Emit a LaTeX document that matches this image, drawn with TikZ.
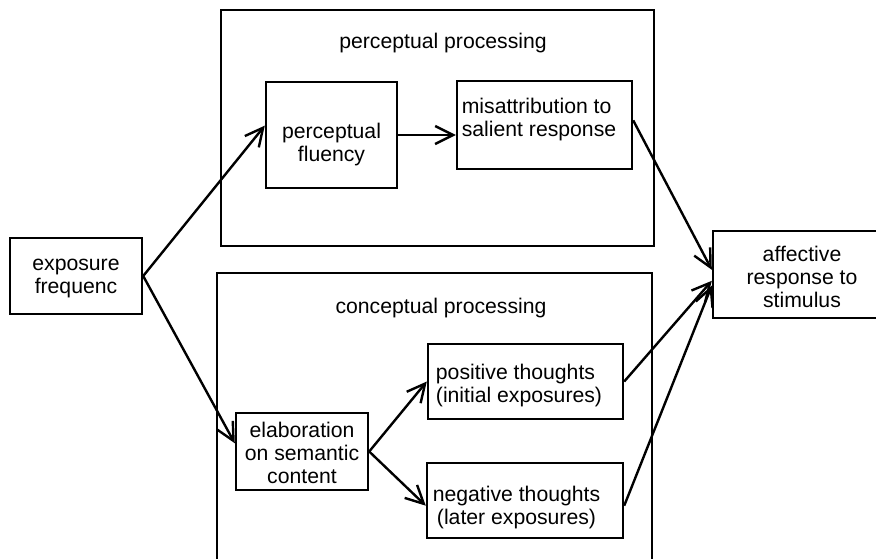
\documentclass[tikz,border=0pt]{standalone}
\usepackage{fontspec}
\setmainfont{Liberation Sans}
\usetikzlibrary{arrows.meta}

\begin{document}
\begin{tikzpicture}[x=0.5pt,y=-0.5pt,line width=1.2pt,
  box/.style={draw,rectangle,inner sep=0pt},
  txt/.style={font=\fontsize{10.6}{11.5}\selectfont,inner sep=0pt,align=center},
  arr/.style={-{Straight Barb[length=9pt,width=9pt,line width=1.2pt]}}]
  \clip (0,0) rectangle (876,558);
  % the two processing routes
  \node[box,minimum width=216.5pt,minimum height=118pt] (percbox) at (437.5,128) {};
  \node[txt] (perctitle) at (443,43) {perceptual processing};
  \node[box,minimum width=217.5pt,minimum height=163.5pt] (concbox) at (434.5,436.5) {};
  \node[txt] (conctitle) at (441,308) {conceptual processing};
  % boxes
  \node[box,minimum width=66pt,minimum height=38pt,
    label={[txt,yshift=-1pt]center:{exposure\\frequenc}}] (expo) at (76,276) {};
  \node[box,minimum width=65.5pt,minimum height=53pt,
    label={[txt,yshift=-5pt]center:{perceptual\\fluency}}] (fluency) at (331.5,135) {};
  \node[box,minimum width=87.5pt,minimum height=44pt,
    label={[txt,align=left,xshift=-2.75pt,yshift=2.5pt]center:{misattribution to\\salient response}}] (misattr) at (544.5,125) {};
  \node[box,minimum width=89pt,minimum height=43.5pt,
    label={[txt,yshift=-1.25pt]center:{affective\\response to\\stimulus}}] (affect) at (802,274.5) {};
  \node[box,minimum width=66pt,minimum height=38.5pt,
    label={[txt,yshift=-0.75pt]center:{elaboration\\on semantic\\content}}] (elab) at (302,451.5) {};
  \node[box,minimum width=97.5pt,minimum height=37.5pt,
    label={[txt,align=left,xshift=-3.25pt,yshift=-2pt]center:{positive thoughts\\(initial exposures)}}] (pos) at (525.5,381.5) {};
  \node[box,minimum width=98pt,minimum height=37.5pt,
    label={[txt,xshift=-4.25pt,yshift=-3.5pt]center:{negative thoughts\\(later exposures)}}] (neg) at (525,500.5) {};
  % connectors
  \path[arr] (expo.east) edge (fluency.172);
  \path[arr] (expo.east) edge (elab.173);
  \path[arr] (fluency.east) edge (fluency.east -| misattr.west);
  \path[arr] (misattr.3) edge (affect.177);
  \path[arr] (elab.east) edge (pos.west);
  \path[arr] (elab.east) edge (neg.183);
  \path[arr] (pos.east) edge (affect.184);
  \path[arr] (neg.-3) edge (affect.187);
\end{tikzpicture}
\end{document}
